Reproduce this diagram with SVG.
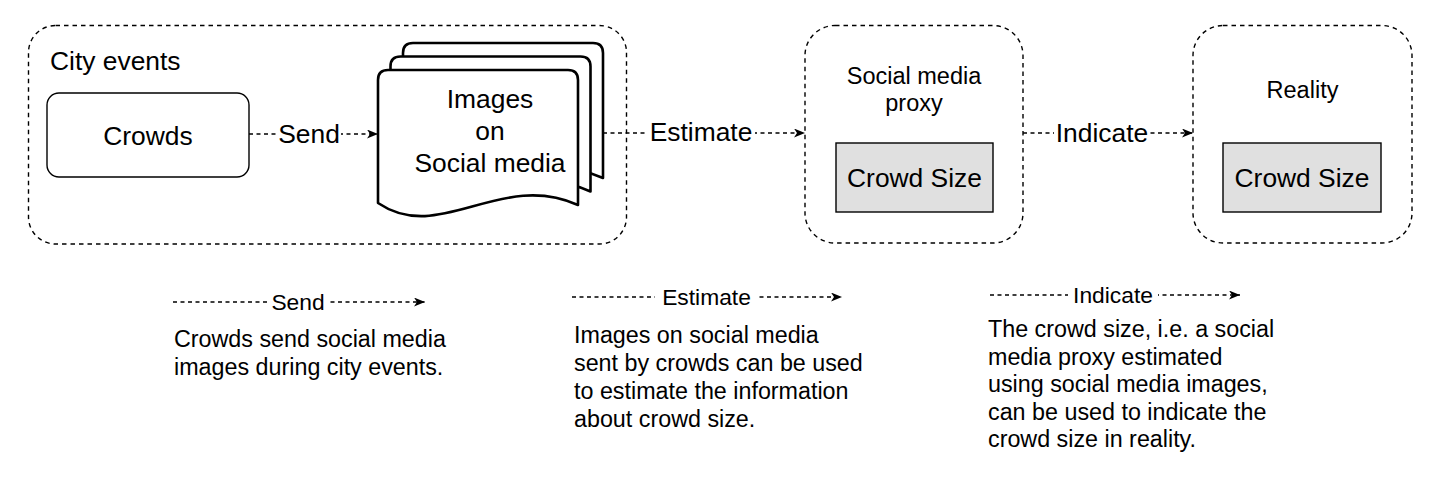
<svg xmlns="http://www.w3.org/2000/svg" xmlns:xlink="http://www.w3.org/1999/xlink" width="1441" height="478" viewBox="0 0 1441 478">
<style>
text{font-family:"Liberation Sans",Arial,Helvetica,sans-serif;fill:#000}
.big{font-size:26.4px}
.mid{font-size:23.5px}
.leg{font-size:22.8px}
.body{font-size:23.3px}
.container{fill:#fff;stroke:#000;stroke-width:1.4;stroke-dasharray:4.5 4}
.box{fill:#fff;stroke:#000;stroke-width:1.4}
.grey{fill:#e0e0e0;stroke:#000;stroke-width:1.4}
.page{fill:#fff;stroke:#000;stroke-width:2.6;stroke-linejoin:round}
.conn{fill:none;stroke:#000;stroke-width:1.5;stroke-dasharray:4 3.5}
.lbg{fill:#fff}
</style>
<defs>
<marker id="arr" markerUnits="userSpaceOnUse" markerWidth="12" markerHeight="10" refX="11" refY="4.5" orient="auto">
<path d="M0,0 L11,4.5 L0,9 L3,4.5 Z" fill="#000"/>
</marker>
<path id="page" d="M0,133 L0,10 Q0,0 10,0 L190,0 Q200,0 200,10 L200,135 C122,100 62,175 0,133 Z"/>
</defs>
<rect width="1441" height="478" fill="#fff"/>

<g id="city-events">
<rect class="container" x="28.5" y="25.5" width="598" height="218.5" rx="27" ry="27"/>
<text class="big" x="50" y="70">City events</text>
</g>

<g id="crowds">
<rect class="box" x="47" y="93" width="202" height="84" rx="12" ry="12"/>
<text class="big" x="148" y="145" text-anchor="middle">Crowds</text>
</g>

<g id="images-social-media">
<use xlink:href="#page" class="page" x="403" y="43"/>
<use xlink:href="#page" class="page" x="390.5" y="56.5"/>
<use xlink:href="#page" class="page" x="378" y="70"/>
<text class="big" x="490" y="108" text-anchor="middle">Images</text>
<text class="big" x="490" y="140" text-anchor="middle">on</text>
<text class="big" x="490" y="172" text-anchor="middle">Social media</text>
</g>

<g id="social-media-proxy">
<rect class="container" x="805" y="25.5" width="218" height="217.5" rx="30" ry="30"/>
<text class="mid" x="914" y="84" text-anchor="middle">Social media</text>
<text class="mid" x="914" y="111" text-anchor="middle">proxy</text>
</g>

<g id="crowd-size-proxy">
<rect class="grey" x="836" y="143" width="157" height="69"/>
<text class="big" x="914.5" y="187" text-anchor="middle">Crowd Size</text>
</g>

<g id="reality">
<rect class="container" x="1193" y="25.5" width="219" height="217.5" rx="30" ry="30"/>
<text class="mid" x="1302.5" y="97.5" text-anchor="middle">Reality</text>
</g>

<g id="crowd-size-reality">
<rect class="grey" x="1223" y="143" width="158" height="69"/>
<text class="big" x="1302" y="187" text-anchor="middle">Crowd Size</text>
</g>

<g id="connectors">
<line class="conn" x1="249" y1="134" x2="378" y2="134" marker-end="url(#arr)"/>
<rect class="lbg" x="277" y="120" width="64" height="28"/>
<text class="big" x="309" y="143" text-anchor="middle">Send</text>

<line class="conn" x1="603" y1="133" x2="805" y2="133" marker-end="url(#arr)"/>
<rect class="lbg" x="647" y="119" width="108" height="28"/>
<text class="big" x="701" y="141" text-anchor="middle">Estimate</text>

<line class="conn" x1="1023" y1="133" x2="1193" y2="133" marker-end="url(#arr)"/>
<rect class="lbg" x="1054" y="119" width="96" height="28"/>
<text class="big" x="1102" y="142" text-anchor="middle">Indicate</text>
</g>

<g id="legend-send">
<line class="conn" x1="173" y1="302" x2="425" y2="302" marker-end="url(#arr)"/>
<rect class="lbg" x="267" y="290" width="62" height="24"/>
<text class="leg" x="298" y="310" text-anchor="middle">Send</text>
<text class="body" x="174" y="347">Crowds send social media</text>
<text class="body" x="174" y="375">images during city events.</text>
</g>

<g id="legend-estimate">
<line class="conn" x1="572" y1="297" x2="842" y2="297" marker-end="url(#arr)"/>
<rect class="lbg" x="655" y="285" width="103" height="24"/>
<text class="leg" x="706.5" y="305" text-anchor="middle">Estimate</text>
<text class="body" x="574" y="343">Images on social media</text>
<text class="body" x="574" y="371">sent by crowds can be used</text>
<text class="body" x="574" y="399">to estimate the information</text>
<text class="body" x="574" y="427">about crowd size.</text>
</g>

<g id="legend-indicate">
<line class="conn" x1="990" y1="295" x2="1240" y2="295" marker-end="url(#arr)"/>
<rect class="lbg" x="1068" y="283" width="90" height="24"/>
<text class="leg" x="1113" y="303" text-anchor="middle">Indicate</text>
<text class="body" x="988" y="337">The crowd size, i.e. a social</text>
<text class="body" x="988" y="364.5">media proxy estimated</text>
<text class="body" x="988" y="392">using social media images,</text>
<text class="body" x="988" y="419.5">can be used to indicate the</text>
<text class="body" x="988" y="447">crowd size in reality.</text>
</g>
</svg>
